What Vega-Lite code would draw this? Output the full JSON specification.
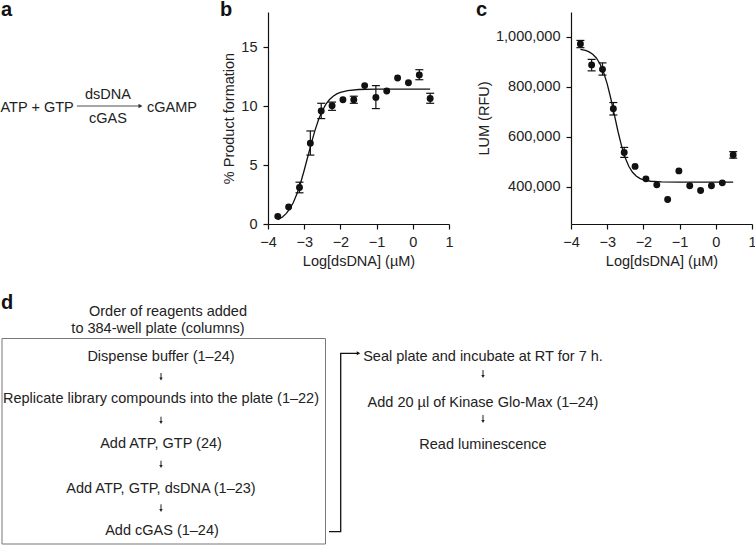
{
  "$schema": "https://vega.github.io/schema/vega-lite/v6.json",
  "padding": 0,
  "background": "white",
  "columns": 3,
  "align": "none",
  "bounds": "flush",
  "spacing": {"row": 56, "column": 122},
  "config": {
    "view": {"stroke": null},
    "font": "Liberation Sans",
    "axis": {
      "grid": false,
      "domainColor": "#111",
      "tickColor": "#111",
      "domainWidth": 1.2,
      "tickWidth": 1.2,
      "tickSize": 5,
      "labelFont": "Liberation Sans",
      "labelFontSize": 14.5,
      "labelColor": "#222",
      "titleFont": "Liberation Sans",
      "titleFontSize": 14.5,
      "titleFontWeight": "normal",
      "titleColor": "#222",
      "labelPadding": 6,
      "labelOverlap": false,
      "labelFlush": false
    },
    "axisX": {"titlePadding": 6},
    "axisY": {"titlePadding": 4}
  },
  "datasets": {
    "panelLabels": [
      {"label": "a", "x": 1, "y": 16},
      {"label": "b", "x": 220, "y": 16},
      {"label": "c", "x": 476, "y": 16}
    ],
    "reactLeft": [
      {"t": "ATP + GTP", "x": 0.5, "y": 111.7},
      {"t": "cGAMP", "x": 147, "y": 111.7}
    ],
    "reactCenter": [
      {"t": "dsDNA", "x": 108, "y": 99},
      {"t": "cGAS", "x": 108, "y": 122.5}
    ],
    "reactArrow": [
      {"x": 77, "y": 106, "o": 1},
      {"x": 139, "y": 106, "o": 2}
    ],
    "reactHead": [{"x": 140.5, "y": 106}],
    "bpts": [
      {"x": -3.73, "y": 0.65},
      {"x": -3.43, "y": 1.45},
      {"x": -3.13, "y": 3.1, "lo": 2.65, "hi": 3.55},
      {"x": -2.83, "y": 6.85, "lo": 5.85, "hi": 7.9},
      {"x": -2.53, "y": 9.6, "lo": 8.95, "hi": 10.25},
      {"x": -2.23, "y": 10.05, "lo": 9.65, "hi": 10.35},
      {"x": -1.93, "y": 10.55},
      {"x": -1.63, "y": 10.55, "lo": 10.25, "hi": 10.85},
      {"x": -1.33, "y": 11.75},
      {"x": -1.02, "y": 10.75, "lo": 9.8, "hi": 11.75},
      {"x": -0.72, "y": 11.3},
      {"x": -0.42, "y": 12.4},
      {"x": -0.12, "y": 12.0},
      {"x": 0.18, "y": 12.65, "lo": 12.25, "hi": 13.1},
      {"x": 0.48, "y": 10.65, "lo": 10.25, "hi": 11.1}
    ],
    "bcurve": [
      {"x": -3.73, "y": 0.36}, {"x": -3.6, "y": 0.6}, {"x": -3.5, "y": 0.88},
      {"x": -3.4, "y": 1.28}, {"x": -3.3, "y": 1.83}, {"x": -3.2, "y": 2.56},
      {"x": -3.1, "y": 3.48}, {"x": -3.0, "y": 4.56}, {"x": -2.9, "y": 5.73},
      {"x": -2.8, "y": 6.89}, {"x": -2.7, "y": 7.97}, {"x": -2.6, "y": 8.89},
      {"x": -2.5, "y": 9.62}, {"x": -2.4, "y": 10.17}, {"x": -2.3, "y": 10.57},
      {"x": -2.2, "y": 10.85}, {"x": -2.1, "y": 11.05}, {"x": -2.0, "y": 11.18},
      {"x": -1.8, "y": 11.33}, {"x": -1.5, "y": 11.42}, {"x": -1.0, "y": 11.45},
      {"x": 0.48, "y": 11.45}
    ],
    "cpts": [
      {"x": -3.74, "y": 972000, "lo": 957000, "hi": 986000},
      {"x": -3.43, "y": 888000, "lo": 864000, "hi": 910000},
      {"x": -3.13, "y": 870000, "lo": 847000, "hi": 896000},
      {"x": -2.83, "y": 712000, "lo": 687000, "hi": 737000},
      {"x": -2.53, "y": 537000, "lo": 517000, "hi": 557000},
      {"x": -2.23, "y": 481000},
      {"x": -1.93, "y": 431000},
      {"x": -1.63, "y": 407000},
      {"x": -1.33, "y": 348000},
      {"x": -1.02, "y": 463000},
      {"x": -0.72, "y": 403000},
      {"x": -0.42, "y": 384000},
      {"x": -0.12, "y": 403000},
      {"x": 0.18, "y": 415000},
      {"x": 0.48, "y": 527000, "lo": 514000, "hi": 540000}
    ],
    "ccurve": [
      {"x": -3.74, "y": 950500}, {"x": -3.6, "y": 945800}, {"x": -3.5, "y": 940000},
      {"x": -3.4, "y": 930500}, {"x": -3.3, "y": 915500}, {"x": -3.2, "y": 892500},
      {"x": -3.1, "y": 858600}, {"x": -3.0, "y": 812000}, {"x": -2.9, "y": 753100},
      {"x": -2.8, "y": 686500}, {"x": -2.7, "y": 619900}, {"x": -2.6, "y": 561000},
      {"x": -2.5, "y": 514400}, {"x": -2.4, "y": 480500}, {"x": -2.3, "y": 457500},
      {"x": -2.2, "y": 442500}, {"x": -2.1, "y": 433000}, {"x": -2.0, "y": 427200},
      {"x": -1.8, "y": 421400}, {"x": -1.5, "y": 418700}, {"x": -1.0, "y": 418100},
      {"x": 0.48, "y": 418000}
    ],
    "dLabel": [{"label": "d", "x": 1, "y": 309}],
    "dText": [
      {"t": "Order of reagents added", "x": 168, "y": 315.7},
      {"t": "to 384-well plate (columns)", "x": 158, "y": 333.3},
      {"t": "Dispense buffer (1–24)", "x": 161, "y": 360.5},
      {"t": "Replicate library compounds into the plate (1–22)", "x": 161, "y": 403.3},
      {"t": "Add ATP, GTP (24)", "x": 161, "y": 447.5},
      {"t": "Add ATP, GTP, dsDNA (1–23)", "x": 161, "y": 492.5},
      {"t": "Add cGAS (1–24)", "x": 162, "y": 535.2},
      {"t": "Seal plate and incubate at RT for 7 h.", "x": 483, "y": 360.7},
      {"t": "Add 20 µl of Kinase Glo-Max (1–24)", "x": 483, "y": 407.3},
      {"t": "Read luminescence", "x": 483, "y": 448.5}
    ],
    "dBox": [{"x": 2, "x2": 325.5, "y": 338.5, "y2": 544}],
    "dArrows": [
      {"x": 161, "y1": 373, "y2": 378.5, "yh": 379},
      {"x": 161, "y1": 416.7, "y2": 422, "yh": 422.5},
      {"x": 161, "y1": 460.7, "y2": 466, "yh": 466.5},
      {"x": 161, "y1": 504.3, "y2": 510, "yh": 510.5},
      {"x": 483, "y1": 370, "y2": 376, "yh": 376.5},
      {"x": 483, "y1": 415, "y2": 421, "yh": 421.5}
    ],
    "dConnector": [
      {"x": 329, "y": 531.7, "o": 1},
      {"x": 340.7, "y": 531.7, "o": 2},
      {"x": 340.7, "y": 353.3, "o": 3},
      {"x": 357, "y": 353.3, "o": 4}
    ],
    "dConnectorHead": [{"x": 358.5, "y": 353.3}]
  },
  "concat": [
    {
      "width": 146,
      "height": 212,
      "layer": [
        {
          "data": {"name": "panelLabels"},
          "mark": {"type": "text", "fontSize": 20, "fontWeight": "bold", "align": "left", "baseline": "alphabetic", "color": "#111"},
          "encoding": {
            "x": {"field": "x", "type": "quantitative", "scale": {"domain": [0, 146], "nice": false, "zero": false}, "axis": null},
            "y": {"field": "y", "type": "quantitative", "scale": {"domain": [12, 224], "reverse": true, "nice": false, "zero": false}, "axis": null},
            "text": {"field": "label"}
          }
        },
        {
          "data": {"name": "reactLeft"},
          "mark": {"type": "text", "fontSize": 14.5, "align": "left", "baseline": "alphabetic", "color": "#222"},
          "encoding": {
            "x": {"field": "x", "type": "quantitative", "axis": null},
            "y": {"field": "y", "type": "quantitative", "axis": null},
            "text": {"field": "t"}
          }
        },
        {
          "data": {"name": "reactCenter"},
          "mark": {"type": "text", "fontSize": 14.5, "align": "center", "baseline": "alphabetic", "color": "#222"},
          "encoding": {
            "x": {"field": "x", "type": "quantitative", "axis": null},
            "y": {"field": "y", "type": "quantitative", "axis": null},
            "text": {"field": "t"}
          }
        },
        {
          "data": {"name": "reactArrow"},
          "mark": {"type": "line", "color": "#888", "strokeWidth": 1.3},
          "encoding": {
            "x": {"field": "x", "type": "quantitative", "axis": null},
            "y": {"field": "y", "type": "quantitative", "axis": null},
            "order": {"field": "o"}
          }
        },
        {
          "data": {"name": "reactHead"},
          "mark": {"type": "point", "shape": "triangle-right", "filled": true, "size": 22, "color": "#333", "opacity": 1},
          "encoding": {
            "x": {"field": "x", "type": "quantitative", "axis": null},
            "y": {"field": "y", "type": "quantitative", "axis": null}
          }
        }
      ]
    },
    {
      "width": 181,
      "height": 212,
      "encoding": {
        "x": {"field": "x", "type": "quantitative", "title": "Log[dsDNA] (µM)", "scale": {"domain": [-4, 1], "nice": false, "zero": false}, "axis": {"values": [-4, -3, -2, -1, 0, 1], "labelOverlap": false}}
      },
      "layer": [
        {
          "data": {"name": "bcurve"},
          "mark": {"type": "line", "color": "#111", "strokeWidth": 1.3},
          "encoding": {
            "y": {"field": "y", "type": "quantitative", "title": "% Product formation", "scale": {"domain": [0, 18], "nice": false, "zero": false}, "axis": {"values": [0, 5, 10, 15], "labelOverlap": false}}
          }
        },
        {
          "data": {"name": "bpts"},
          "transform": [{"filter": "isValid(datum.lo)"}],
          "mark": {"type": "rule", "color": "#111", "strokeWidth": 1.2},
          "encoding": {
            "y": {"field": "lo", "type": "quantitative", "title": "% Product formation", "axis": {"values": [0, 5, 10, 15], "labelOverlap": false}},
            "y2": {"field": "hi"}
          }
        },
        {
          "data": {"name": "bpts"},
          "transform": [{"filter": "isValid(datum.lo)"}],
          "mark": {"type": "tick", "orient": "horizontal", "size": 8, "thickness": 1.2, "color": "#111", "opacity": 1},
          "encoding": {
            "y": {"field": "lo", "type": "quantitative", "title": "% Product formation", "axis": {"values": [0, 5, 10, 15], "labelOverlap": false}}
          }
        },
        {
          "data": {"name": "bpts"},
          "transform": [{"filter": "isValid(datum.hi)"}],
          "mark": {"type": "tick", "orient": "horizontal", "size": 8, "thickness": 1.2, "color": "#111", "opacity": 1},
          "encoding": {
            "y": {"field": "hi", "type": "quantitative", "title": "% Product formation", "axis": {"values": [0, 5, 10, 15], "labelOverlap": false}}
          }
        },
        {
          "data": {"name": "bpts"},
          "mark": {"type": "point", "filled": true, "size": 48, "color": "#111", "opacity": 1},
          "encoding": {
            "y": {"field": "y", "type": "quantitative", "title": "% Product formation", "axis": {"values": [0, 5, 10, 15], "labelOverlap": false}}
          }
        }
      ]
    },
    {
      "width": 181,
      "height": 212,
      "encoding": {
        "x": {"field": "x", "type": "quantitative", "title": "Log[dsDNA] (µM)", "scale": {"domain": [-4, 1], "nice": false, "zero": false}, "axis": {"values": [-4, -3, -2, -1, 0, 1], "labelOverlap": false}}
      },
      "layer": [
        {
          "data": {"name": "ccurve"},
          "mark": {"type": "line", "color": "#111", "strokeWidth": 1.3},
          "encoding": {
            "y": {"field": "y", "type": "quantitative", "title": "LUM (RFU)", "scale": {"domain": [250000, 1100000], "nice": false, "zero": false}, "axis": {"values": [400000, 600000, 800000, 1000000], "format": ",d", "labelOverlap": false}}
          }
        },
        {
          "data": {"name": "cpts"},
          "transform": [{"filter": "isValid(datum.lo)"}],
          "mark": {"type": "rule", "color": "#111", "strokeWidth": 1.2},
          "encoding": {
            "y": {"field": "lo", "type": "quantitative", "title": "LUM (RFU)", "axis": {"values": [400000, 600000, 800000, 1000000], "format": ",d", "labelOverlap": false}},
            "y2": {"field": "hi"}
          }
        },
        {
          "data": {"name": "cpts"},
          "transform": [{"filter": "isValid(datum.lo)"}],
          "mark": {"type": "tick", "orient": "horizontal", "size": 8, "thickness": 1.2, "color": "#111", "opacity": 1},
          "encoding": {
            "y": {"field": "lo", "type": "quantitative", "title": "LUM (RFU)", "axis": {"values": [400000, 600000, 800000, 1000000], "format": ",d", "labelOverlap": false}}
          }
        },
        {
          "data": {"name": "cpts"},
          "transform": [{"filter": "isValid(datum.hi)"}],
          "mark": {"type": "tick", "orient": "horizontal", "size": 8, "thickness": 1.2, "color": "#111", "opacity": 1},
          "encoding": {
            "y": {"field": "hi", "type": "quantitative", "title": "LUM (RFU)", "axis": {"values": [400000, 600000, 800000, 1000000], "format": ",d", "labelOverlap": false}}
          }
        },
        {
          "data": {"name": "cpts"},
          "mark": {"type": "point", "filled": true, "size": 48, "color": "#111", "opacity": 1},
          "encoding": {
            "y": {"field": "y", "type": "quantitative", "title": "LUM (RFU)", "axis": {"values": [400000, 600000, 800000, 1000000], "format": ",d", "labelOverlap": false}}
          }
        }
      ]
    },
    {
      "width": 146,
      "height": 265,
      "layer": [
        {
          "data": {"name": "dBox"},
          "mark": {"type": "rect", "fill": null, "fillOpacity": 0, "stroke": "#777", "strokeWidth": 1},
          "encoding": {
            "x": {"field": "x", "type": "quantitative", "scale": {"domain": [0, 146], "nice": false, "zero": false}, "axis": null},
            "x2": {"field": "x2"},
            "y": {"field": "y", "type": "quantitative", "scale": {"domain": [280, 545], "reverse": true, "nice": false, "zero": false}, "axis": null},
            "y2": {"field": "y2"}
          }
        },
        {
          "data": {"name": "dLabel"},
          "mark": {"type": "text", "fontSize": 20, "fontWeight": "bold", "align": "left", "baseline": "alphabetic", "color": "#111"},
          "encoding": {
            "x": {"field": "x", "type": "quantitative", "axis": null},
            "y": {"field": "y", "type": "quantitative", "axis": null},
            "text": {"field": "label"}
          }
        },
        {
          "data": {"name": "dText"},
          "mark": {"type": "text", "fontSize": 14.5, "align": "center", "baseline": "alphabetic", "color": "#222"},
          "encoding": {
            "x": {"field": "x", "type": "quantitative", "axis": null},
            "y": {"field": "y", "type": "quantitative", "axis": null},
            "text": {"field": "t"}
          }
        },
        {
          "data": {"name": "dArrows"},
          "mark": {"type": "rule", "color": "#222", "strokeWidth": 1},
          "encoding": {
            "x": {"field": "x", "type": "quantitative", "axis": null},
            "y": {"field": "y1", "type": "quantitative", "axis": null},
            "y2": {"field": "y2"}
          }
        },
        {
          "data": {"name": "dArrows"},
          "mark": {"type": "point", "shape": "triangle-down", "filled": true, "size": 12, "color": "#222", "opacity": 1},
          "encoding": {
            "x": {"field": "x", "type": "quantitative", "axis": null},
            "y": {"field": "yh", "type": "quantitative", "axis": null}
          }
        },
        {
          "data": {"name": "dConnector"},
          "mark": {"type": "line", "color": "#111", "strokeWidth": 1.3},
          "encoding": {
            "x": {"field": "x", "type": "quantitative", "axis": null},
            "y": {"field": "y", "type": "quantitative", "axis": null},
            "order": {"field": "o"}
          }
        },
        {
          "data": {"name": "dConnectorHead"},
          "mark": {"type": "point", "shape": "triangle-right", "filled": true, "size": 16, "color": "#111", "opacity": 1},
          "encoding": {
            "x": {"field": "x", "type": "quantitative", "axis": null},
            "y": {"field": "y", "type": "quantitative", "axis": null}
          }
        }
      ]
    }
  ]
}
